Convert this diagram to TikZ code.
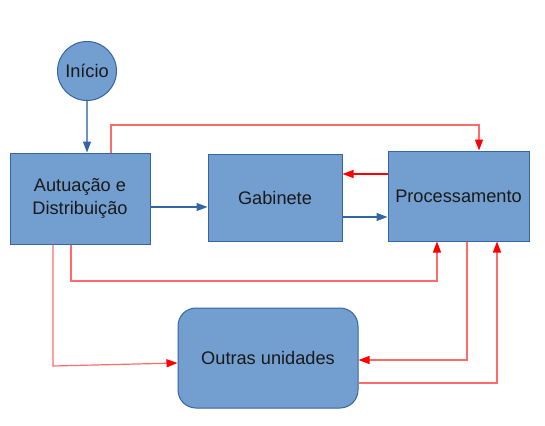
\documentclass[tikz,border=0pt]{standalone}
\usepackage{fontspec}
\setmainfont{Liberation Sans}
\usetikzlibrary{arrows.meta,positioning,calc}

\definecolor{caixafill}{HTML}{729FCF}
\definecolor{caixaborda}{HTML}{3465A4}
\definecolor{linhaverm}{HTML}{FF6A6A}

\tikzset{
  caixa/.style={draw=caixaborda, fill=caixafill, line width=1pt,
    align=center, font=\fontsize{18.2}{23}\selectfont, text=black!90},
  circ/.style={caixa, circle, minimum size=59pt, inner sep=0pt},
  azul/.style={draw=caixaborda, line width=1.1pt,
    -{Triangle[length=11pt,width=8pt,color=caixaborda]}},
  verm/.style={draw=linhaverm, line width=1.2pt,
    -{Triangle[length=11pt,width=8pt,color=red]}},
}

\begin{document}
\begin{tikzpicture}[x=1pt,y=-1pt]
    \useasboundingbox (0,0) rectangle (545,425);

    % blocos
    \node[circ] (inicio) at (87,71) {Início};
    \node[caixa, minimum width=140pt, minimum height=91pt] (aut) at (80,198.5) {Autuação e\\Distribuição};
    \node[caixa, minimum width=134pt, minimum height=87pt] (gab) at (275,197.5) {Gabinete};
    \node[caixa, minimum width=141pt, minimum height=90pt] (proc) at (458.5,196) {Processamento};
    \node[caixa, rounded corners=18pt, minimum width=180pt, minimum height=100pt] (outras) at (268,358) {Outras unidades};

    % fluxo azul
    \draw[azul, draw=caixaborda!70] (inicio.south) -- (inicio.south |- aut.north);
    \draw[azul] (aut.east |- 0,207) -- (gab.west |- 0,207);
    \draw[azul] (gab.east |- 0,217) -- (proc.west |- 0,217);

    % fluxo vermelho
    \draw[verm, draw=red] (proc.west |- 0,174) -- (gab.east |- 0,174);
    \draw[verm] (aut.north -| 111,0) |- (479,125) -- (proc.north -| 479,0);
    \draw[verm] (aut.south -| 71,0) |- (437,281) -- (proc.south -| 437,0);
    \draw[verm] (aut.south -| 53,0) -- (53,366) -- (outras.west |- 0,363);
    \draw[verm] (proc.south -| 467,0) |- (outras.east |- 0,360);
    \draw[verm] (outras.east |- 0,383) -| (proc.south -| 497,0);
\end{tikzpicture}
\end{document}
